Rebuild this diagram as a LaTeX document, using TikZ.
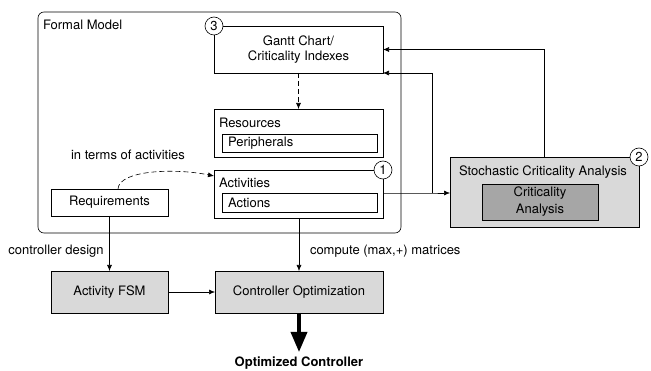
\documentclass[tikz,border=0pt]{standalone}
\usepackage{fontspec}
\setmainfont{TeX Gyre Heros}
\usetikzlibrary{arrows.meta}

\begin{document}
\begin{tikzpicture}[
		x=1pt, y=-1pt,
		%Option for nice arrows
		>={Latex[length=6pt,width=5pt]}, %
		font=\fontsize{13}{15}\selectfont,
		inner sep=0pt, outer sep=0pt,%
		block/.style={draw, line width=0.6pt, anchor=north west, fill=#1},
		block/.default=white,
		badge/.style={draw, circle, fill=white, line width=0.6pt, minimum size=18pt},
		flow/.style={line width=0.6pt, ->},
		hint/.style={line width=0.6pt, dashed, dash pattern=on 5pt off 3pt, ->},
	]
		% Colors
		\colorlet{lightgray}{black!15}
		\colorlet{darkgray}{black!35}

		\useasboundingbox (0,0) rectangle (651,371);

		% Formal model frame
		\draw[line width=0.6pt, rounded corners=6pt] (38,12) rectangle (401,233);
		\node[anchor=west] (modeltitle) at (43,25) {Formal Model};

		% Gantt chart
		\node[block, minimum width=169pt, minimum height=47pt, align=center]
			(gantt) at (214,26) {Gantt Chart/\\Criticality Indexes};
		\node[badge] (badge3) at (gantt.north west) {3};

		% Resources
		\node[block, minimum width=169pt, minimum height=48pt] (res) at (214,109) {};
		\node[anchor=west] (restitle) at (219,123) {Resources};
		\node[block, minimum width=155pt, minimum height=18pt] (periph) at (222,134) {};
		\node[anchor=west] (periphtext) at (228,143) {Peripherals};

		% Activities
		\node[block, minimum width=169pt, minimum height=48pt] (act) at (214,170) {};
		\node[anchor=west] (acttitle) at (219,183) {Activities};
		\node[block, minimum width=155pt, minimum height=19pt] (actions) at (222,193) {};
		\node[anchor=west] (actionstext) at (228,202.5) {Actions};
		\node[badge] (badge1) at (act.north east) {1};

		% Requirements
		\node[block, minimum width=117pt, minimum height=27pt] (req) at (51,189) {};
		\node (reqtext) at (req.center) {Requirements};

		% Stochastic analysis
		\node[block=lightgray, minimum width=189pt, minimum height=70pt] (sca) at (450,157) {};
		\node (scatitle) at (543,172) {Stochastic Criticality Analysis};
		\node[block=darkgray, minimum width=116pt, minimum height=36pt]
			(crit) at (482,184) {};
		\node[align=center, font=\fontsize{13}{17}\selectfont] (crittext) at (crit.center)
			{Criticality\\Analysis};
		\node[badge] (badge2) at (sca.north east) {2};

		% Lower row
		\node[block=lightgray, minimum width=117pt, minimum height=42pt] (fsm) at (51,271) {};
		\node (fsmtext) at (fsm.center) {Activity FSM};
		\node[block=lightgray, minimum width=168pt, minimum height=42pt] (opt) at (215,271) {};
		\node (opttext) at (opt.center) {Controller Optimization};
		\node[font=\bfseries\fontsize{13}{15}\selectfont] (result) at (299,363) {Optimized Controller};
		\coordinate (resulttop) at (299,352);

		% Labels
		\node (termlabel) at (128,155) {in terms of activities};
		\node (designlabel) at (56,251) {controller design};
		\node[anchor=west] (computelabel) at (310,251) {compute (max,+) matrices};

		% Connectors
		\coordinate (split) at (432,193);
		\draw[hint] (gantt.south) -- (res.north);
		\draw[hint] (118,189) .. controls (119,170) and (175,168) .. (214,176);
		\draw[flow] (req.south) -- (fsm.north);
		\draw[flow] (299,218) -- (opt.north);
		\draw[flow] (fsm.east) -- (opt.west);
		\draw[flow] (383,193) -- (split) -- (sca.west |- split);
		\draw[flow] (split) |- (gantt.south east);
		\draw[flow] (sca.north) |- (gantt.east);
		\draw[line width=3.5pt, -{Triangle[length=20pt,width=16pt]}] (opt.south) -- (resulttop);
	\end{tikzpicture}
\end{document}
